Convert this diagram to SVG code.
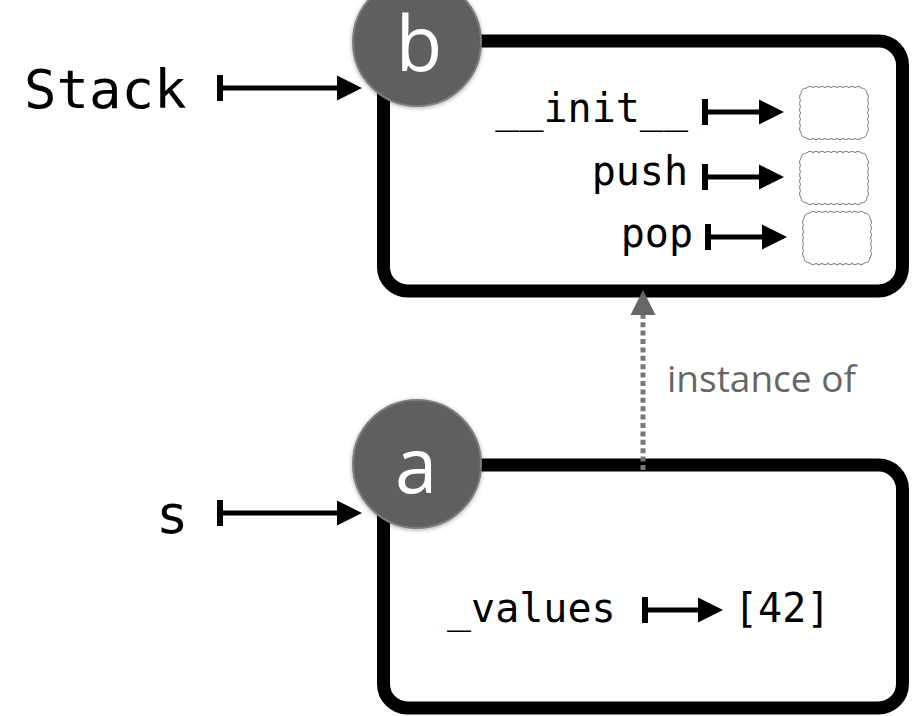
<svg xmlns="http://www.w3.org/2000/svg" width="913" height="716" viewBox="0 0 913 716">
  <style>
    .frame { fill: #fff; stroke: #000; stroke-width: 13; }
    .badge { fill: #5f5f5f; stroke: #7d7d7d; stroke-width: 2; filter: url(#soft); }
    .badge-label { font-family: "Open Sans", "Noto Sans", sans-serif; font-size: 76px; fill: #fff; text-anchor: middle; }
    .mono { font-family: "DejaVu Sans Mono", "Liberation Mono", monospace; fill: #000; }
    .big { font-size: 54px; }
    .attr { font-size: 40px; }
    .end { text-anchor: end; }
    .note { font-family: "Open Sans", "Noto Sans", sans-serif; font-size: 37px; fill: #666; }
    .ref { fill: none; stroke: #000; stroke-width: 5; marker-start: url(#tail); marker-end: url(#head); }
    .inst { fill: none; stroke: #777; stroke-width: 5; stroke-dasharray: 5 3.4; marker-end: url(#headGrey); }
    .cloud { fill: #fff; stroke: #7a7a7a; stroke-width: 1; }
  </style>
  <defs>
    <filter id="soft" x="-20%" y="-20%" width="140%" height="140%">
      <feDropShadow dx="0" dy="1" stdDeviation="2" flood-color="#000" flood-opacity="0.35"/>
    </filter>
    <marker id="head" markerUnits="userSpaceOnUse" markerWidth="25" markerHeight="25" refX="0" refY="12.5" orient="auto" overflow="visible">
      <path d="M0,0 L25,12.5 L0,25 Z" fill="#000"/>
    </marker>
    <marker id="headGrey" markerUnits="userSpaceOnUse" markerWidth="25" markerHeight="25" refX="0" refY="12.5" orient="auto" overflow="visible">
      <path d="M0,0 L25,12.5 L0,25 Z" fill="#666"/>
    </marker>
    <marker id="tail" markerUnits="userSpaceOnUse" markerWidth="6" markerHeight="26" refX="3" refY="13" orient="auto" overflow="visible">
      <rect x="0" y="0" width="6" height="26" fill="#000"/>
    </marker>
    <!-- scalloped placeholder for a function value -->
    <path id="cloudShape" d="M6,0 a3 1.5 0 0 1 6 0 a3 1.5 0 0 1 6 0 a3 1.5 0 0 1 6 0 a3 1.5 0 0 1 6 0 a3 1.5 0 0 1 6 0 a3 1.5 0 0 1 6 0 a3 1.5 0 0 1 6 0 a3 1.5 0 0 1 6 0 a3 1.5 0 0 1 6 0 q6 0 6 6 a1.5 3.17 0 0 1 0 6.33 a1.5 3.17 0 0 1 0 6.33 a1.5 3.17 0 0 1 0 6.33 a1.5 3.17 0 0 1 0 6.33 a1.5 3.17 0 0 1 0 6.33 a1.5 3.17 0 0 1 0 6.33 q0 6 -6 6 a3 1.5 0 0 1 -6 0 a3 1.5 0 0 1 -6 0 a3 1.5 0 0 1 -6 0 a3 1.5 0 0 1 -6 0 a3 1.5 0 0 1 -6 0 a3 1.5 0 0 1 -6 0 a3 1.5 0 0 1 -6 0 a3 1.5 0 0 1 -6 0 a3 1.5 0 0 1 -6 0 q-6 0 -6 -6 a1.5 3.17 0 0 1 0 -6.33 a1.5 3.17 0 0 1 0 -6.33 a1.5 3.17 0 0 1 0 -6.33 a1.5 3.17 0 0 1 0 -6.33 a1.5 3.17 0 0 1 0 -6.33 a1.5 3.17 0 0 1 0 -6.33 q0 -6 6 -6 Z"/>
  </defs>

  <!-- variable names -->
  <g id="name-Stack">
    <text class="mono big" x="24" y="108">Stack</text>
  </g>
  <g id="name-s">
    <text class="mono big" x="156" y="533">s</text>
  </g>

  <!-- class object b -->
  <g id="obj-b">
    <rect class="frame" x="383.5" y="41" width="519" height="250" rx="24"/>
    <text class="mono attr end" x="688" y="122">__init__</text>
    <text class="mono attr end" x="688" y="185">push</text>
    <text class="mono attr end" x="693" y="247">pop</text>
    <circle class="badge" cx="417" cy="42" r="64"/>
    <text class="badge-label" x="419" y="71">b</text>
  </g>

  <g id="fn-init"><use href="#cloudShape" class="cloud" transform="translate(801,88)"/></g>
  <g id="fn-push"><use href="#cloudShape" class="cloud" transform="translate(801,153)"/></g>
  <g id="fn-pop"><use href="#cloudShape" class="cloud" transform="translate(804,213)"/></g>

  <!-- instance object a -->
  <g id="obj-a">
    <rect class="frame" x="383.5" y="465" width="519" height="243" rx="24"/>
    <text class="mono attr" x="447" y="622">_values</text>
    <circle class="badge" cx="417" cy="464" r="64"/>
    <text class="badge-label" x="416" y="493">a</text>
  </g>

  <g id="val-list">
    <text class="mono attr" x="734" y="622">[42]</text>
  </g>

  <!-- connectors -->
  <g id="connectors">
    <path class="ref" d="M220,88 H337"/>
    <path class="ref" d="M220,513 H337"/>
    <path class="ref" d="M705,112 H759"/>
    <path class="ref" d="M705,177 H759"/>
    <path class="ref" d="M708,237 H762"/>
    <path class="ref" d="M645,610 H698"/>
    <path class="inst" d="M643,470 V315"/>
    <text class="note" x="667" y="392">instance of</text>
  </g>
</svg>
